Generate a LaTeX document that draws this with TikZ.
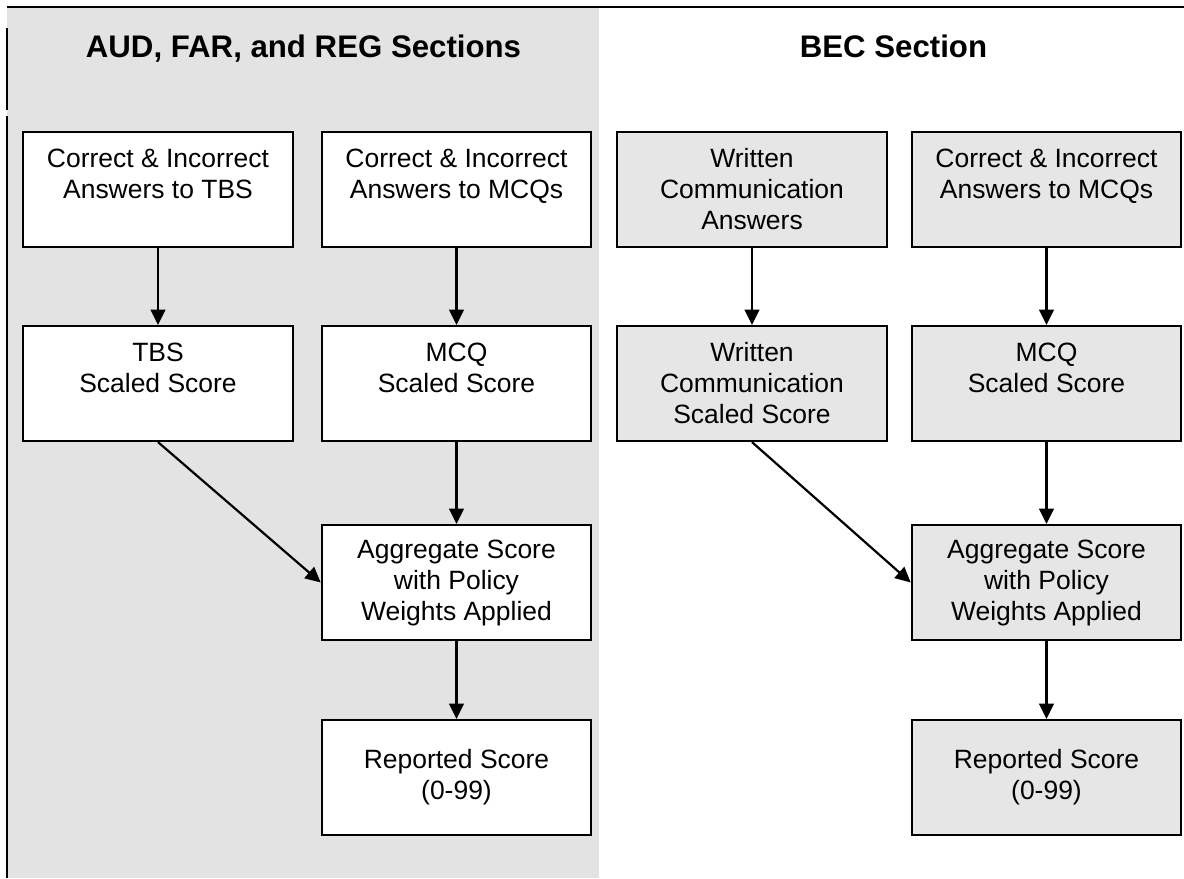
\documentclass[tikz,border=0pt]{standalone}
\usepackage{fontspec}
\setmainfont{Liberation Sans}
\usetikzlibrary{arrows.meta}
\definecolor{panelgray}{HTML}{E3E3E3}
\definecolor{boxgray}{HTML}{E6E6E6}
\begin{document}
\begin{tikzpicture}[x=0.75pt,y=-0.75pt,
  box/.style={draw=black,line width=1.65pt,minimum width=202pt,minimum height=86.25pt,
    inner sep=0pt,align=center,font=\fontsize{19.85pt}{23.25pt}\selectfont},
  whitebox/.style={box,fill=white},
  graybox/.style={box,fill=boxgray},
  title/.style={font=\fontsize{23.4pt}{28pt}\selectfont\bfseries,anchor=base,inner sep=0pt},
  arr/.style={line width=1.65pt,-{Triangle[length=11.5pt,width=11pt]}},
  frame/.style={draw=black}]
\useasboundingbox (0,0) rectangle (1184,878);
% panels
\fill[panelgray] (7,7) rectangle (599,878);
\draw[frame,line width=0.9pt] (7,7) -- (599,7);
\draw[frame,line width=1.8pt] (599,7) -- (1184,7);
\draw[frame,line width=1.9pt] (7,28) -- (7,110);
\draw[frame,line width=1.9pt] (7,116) -- (7,878);
% titles
\node[title] (t1) at (303.5,57) {AUD, FAR, and REG Sections};
\node[title] (t2) at (893.5,57) {BEC Section};
% left panel
\node[whitebox] (ltbs) at (158,189.5) {Correct \& Incorrect\\Answers to TBS\\\mbox{}};
\node[whitebox] (lmcq) at (456.5,189.5) {Correct \& Incorrect\\Answers to MCQs\\\mbox{}};
\node[whitebox] (ltbss) at (158,383.5) {TBS\\Scaled Score\\\mbox{}};
\node[whitebox] (lmcqs) at (456.5,383.5) {MCQ\\Scaled Score\\\mbox{}};
\node[whitebox] (lagg) at (456.5,582.5) {Aggregate Score\\with Policy\\Weights Applied};
\node[whitebox] (lrep) at (456.5,777.5) {Reported Score\\(0-99)};
% right panel
\node[graybox] (rwc) at (752,189.5) {Written\\Communication\\Answers};
\node[graybox] (rmcq) at (1046.5,189.5) {Correct \& Incorrect\\Answers to MCQs\\\mbox{}};
\node[graybox] (rwcs) at (752,383.5) {Written\\Communication\\Scaled Score};
\node[graybox] (rmcqs) at (1046.5,383.5) {MCQ\\Scaled Score\\\mbox{}};
\node[graybox] (ragg) at (1046.5,582.5) {Aggregate Score\\with Policy\\Weights Applied};
\node[graybox] (rrep) at (1046.5,777.5) {Reported Score\\(0-99)};
% arrows
\draw[arr] (ltbs) -- (ltbss);
\draw[arr] (lmcq) -- (lmcqs);
\draw[arr] (lmcqs) -- (lagg);
\draw[arr] (ltbss.south) -- (lagg.west);
\draw[arr] (lagg) -- (lrep);
\draw[arr] (rwc) -- (rwcs);
\draw[arr] (rmcq) -- (rmcqs);
\draw[arr] (rmcqs) -- (ragg);
\draw[arr] (rwcs.south) -- (ragg.west);
\draw[arr] (ragg) -- (rrep);
\end{tikzpicture}
\end{document}
